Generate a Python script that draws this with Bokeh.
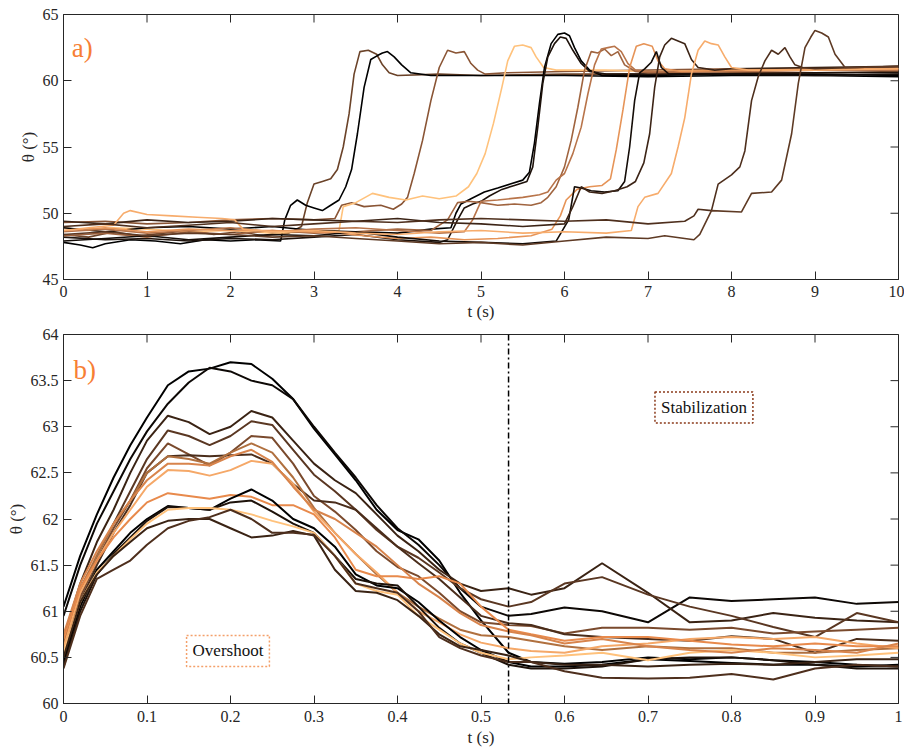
from bokeh.plotting import figure
from bokeh.models import Label, Span, FixedTicker, CustomJSTickFormatter, Range1d
from bokeh.layouts import column
from bokeh.embed import file_html
from bokeh.resources import INLINE

# ---------------- Panel a) : full time series ----------------
a_ticks_x = [0, 1, 2, 3, 4, 5, 6, 7, 8, 9, 10]
a_ticks_y = [45, 50, 55, 60, 65]

a1_t = [0, 0.3, 0.6, 0.9, 1.2, 1.5, 1.8, 2.1, 2.4, 2.7, 2.85, 2.92, 3.0, 3.1, 3.2, 3.28, 3.35, 3.42, 3.48, 3.55, 3.65, 3.75, 3.82, 3.9, 4.0, 4.5, 5, 6, 7, 8, 9, 10]
a1_v = [48.4, 48.2, 48.6, 48.3, 48.5, 48.7, 48.4, 48.6, 48.3, 48.5, 49.0, 50.8, 52.2, 52.4, 52.6, 53.3, 55.0, 57.5, 60.5, 62.2, 62.3, 62.0, 61.2, 60.6, 60.4, 60.5, 60.4, 60.5, 60.5, 60.6, 60.6, 60.7]
a2_t = [0, 0.2, 0.35, 0.5, 0.8, 1.1, 1.4, 1.7, 2.0, 2.3, 2.6, 2.65, 2.72, 2.8, 2.9, 3.0, 3.1, 3.2, 3.3, 3.38, 3.45, 3.52, 3.6, 3.68, 3.76, 3.82, 3.88, 3.96, 4.05, 4.16, 4.4, 5, 6, 7, 8, 9, 10]
a2_v = [47.8, 47.6, 47.4, 47.7, 48.0, 47.9, 47.7, 48.0, 47.9, 48.0, 47.9, 49.5, 50.6, 51.0, 50.6, 50.4, 50.2, 50.6, 51.0, 52.0, 53.3, 56.0, 59.5, 61.6, 61.9, 62.1, 62.2, 61.8, 61.2, 60.6, 60.4, 60.4, 60.4, 60.3, 60.4, 60.4, 60.3]
a3_t = [0, 0.5, 1.0, 1.5, 2.0, 2.5, 3.0, 3.25, 3.33, 3.45, 3.6, 3.8, 3.95, 4.05, 4.12, 4.2, 4.3, 4.4, 4.5, 4.6, 4.7, 4.8, 4.88, 4.96, 5.05, 5.3, 6, 7, 8, 9, 10]
a3_v = [49.3, 49.4, 49.2, 49.3, 49.5, 49.6, 49.5, 49.6, 50.6, 50.8, 50.5, 50.6, 50.3, 50.7, 51.2, 53.0, 55.5, 58.5, 61.0, 62.3, 62.1, 62.2, 61.3, 60.8, 60.5, 60.6, 60.7, 60.8, 60.9, 60.9, 61.0]
a4_t = [0, 0.3, 0.6, 1.0, 1.5, 2.0, 2.5, 3.0, 3.3, 3.35, 3.5, 3.7, 3.9, 4.1, 4.3, 4.5, 4.7, 4.85, 4.95, 5.05, 5.15, 5.25, 5.32, 5.4, 5.5, 5.6, 5.66, 5.75, 5.9, 6.5, 7, 8, 9, 10]
a4_v = [48.9, 48.7, 48.9, 48.8, 48.6, 48.7, 48.5, 48.6, 48.7, 50.5, 50.8, 51.5, 51.2, 51.0, 51.3, 51.1, 51.3, 52.0, 53.0, 54.5, 56.8, 59.5, 61.5, 62.6, 62.7, 62.5, 61.8, 61.0, 60.8, 60.8, 60.7, 60.8, 60.8, 60.9]
a5_t = [0, 0.5, 1, 1.5, 2, 2.5, 3, 3.5, 4, 4.4, 4.64, 4.7, 4.76, 4.88, 5.04, 5.2, 5.35, 5.5, 5.58, 5.64, 5.7, 5.76, 5.84, 5.92, 6.0, 6.06, 6.12, 6.2, 6.3, 6.45, 7, 8, 9, 10]
a5_v = [48.9, 48.6, 48.9, 49.0, 48.8, 49.0, 48.7, 48.6, 48.5, 48.8, 48.9, 50.0, 50.7, 51.1, 51.6, 51.9, 52.2, 52.5, 53.1, 55.3, 58.3, 61.0, 62.8, 63.5, 63.6, 63.4, 62.5, 61.5, 60.8, 60.4, 60.4, 60.5, 60.5, 60.4]
a6_t = [0, 0.5, 1, 1.5, 2, 2.5, 3, 3.5, 4, 4.5, 4.6, 4.72, 4.8, 4.9, 5.0, 5.1, 5.25, 5.4, 5.55, 5.62, 5.68, 5.74, 5.8, 5.88, 5.95, 6.02, 6.1, 6.2, 6.3, 6.5, 7, 8, 9, 10]
a6_v = [48.2, 48.0, 48.1, 47.9, 48.1, 48.0, 48.2, 48.4, 48.0, 47.8, 48.0, 49.5, 50.4, 50.7, 50.9, 51.3, 51.8, 52.1, 52.4, 53.5, 56.5, 59.8, 61.8, 62.8, 63.3, 63.2, 62.3, 61.3, 60.7, 60.5, 60.5, 60.5, 60.6, 60.6]
a7_t = [0, 0.5, 1, 1.5, 2, 2.5, 3, 3.5, 4, 4.4, 4.6, 4.72, 4.85, 5.0, 5.2, 5.4, 5.6, 5.72, 5.8, 5.9, 6.0, 6.08, 6.16, 6.24, 6.32, 6.4, 6.48, 6.56, 6.64, 6.72, 6.85, 7.0, 8, 9, 10]
a7_v = [48.3, 48.5, 48.2, 48.6, 48.4, 48.7, 48.5, 48.6, 48.8, 48.7, 49.5, 50.8, 50.9, 50.8, 50.6, 50.7, 50.6, 50.8, 51.2, 52.0, 53.5, 55.5, 58.0, 60.8, 62.2, 62.1, 62.4, 61.9, 62.2, 61.2, 60.7, 60.6, 60.7, 60.8, 60.8]
a8_t = [0, 0.5, 1, 1.5, 2, 2.5, 3, 3.5, 4, 4.5, 4.8, 4.9, 5.0, 5.2, 5.5, 5.7, 5.8, 5.9, 6.0, 6.1, 6.2, 6.28, 6.36, 6.44, 6.52, 6.6, 6.68, 6.76, 6.85, 7.0, 8, 9, 10]
a8_v = [48.6, 48.8, 48.5, 48.7, 48.9, 48.6, 48.8, 48.9, 48.7, 48.5, 48.6, 49.5, 50.9, 51.0, 51.2, 51.4, 51.6, 52.5, 53.0, 54.5, 56.5, 59.0, 61.2, 62.4, 62.5, 62.6, 62.2, 61.3, 60.8, 60.7, 60.7, 60.8, 60.8]
a9_t = [0, 0.5, 1, 1.5, 2, 2.5, 2.9, 3.3, 3.6, 4.0, 4.4, 4.8, 5.2, 5.6, 5.85, 5.95, 6.02, 6.15, 6.3, 6.45, 6.55, 6.62, 6.7, 6.78, 6.86, 6.95, 7.05, 7.12, 7.2, 7.4, 8, 9, 10]
a9_v = [48.7, 48.9, 48.6, 48.8, 48.7, 48.7, 48.6, 48.5, 48.3, 48.1, 48.2, 48.0, 48.1, 48.3, 48.8, 49.8, 51.0, 51.8, 52.0, 52.1, 52.6, 54.8, 57.8, 61.0, 62.6, 62.8, 62.6, 61.5, 60.9, 60.7, 60.8, 60.9, 60.9]
a10_t = [0, 0.5, 1, 1.5, 2, 2.5, 3, 3.5, 4, 4.5, 5, 5.5, 5.9, 6.05, 6.12, 6.2, 6.32, 6.48, 6.64, 6.72, 6.78, 6.84, 6.9, 6.96, 7.04, 7.1, 7.16, 7.25, 7.5, 8, 9, 10]
a10_v = [47.9, 48.1, 48.3, 48.0, 48.2, 48.4, 48.3, 48.6, 48.2, 47.9, 47.8, 47.7, 47.9, 49.5, 52.0, 51.9, 51.7, 51.6, 51.7, 52.4, 55.0, 58.5, 60.6, 60.9, 61.4, 62.2, 61.0, 60.5, 60.5, 60.5, 60.4, 60.5]
a11_t = [0, 0.5, 1, 1.5, 2, 2.5, 3, 3.5, 4, 4.5, 5, 5.5, 6.0, 6.1, 6.2, 6.3, 6.45, 6.6, 6.75, 6.85, 6.95, 7.02, 7.08, 7.14, 7.2, 7.28, 7.36, 7.44, 7.52, 7.6, 7.8, 8, 9, 10]
a11_v = [49.4, 49.2, 49.5, 49.3, 49.4, 49.6, 49.5, 49.4, 49.6, 49.3, 49.2, 49.0, 49.2, 50.5, 52.0, 51.6, 51.5, 51.7, 52.0, 52.4, 53.8, 56.0, 59.5, 61.8, 62.7, 63.2, 63.0, 62.8, 61.6, 61.0, 60.8, 60.9, 61.0, 61.1]
a12_t = [0, 0.3, 0.6, 0.72, 0.8, 1.0, 1.3, 1.6, 1.9, 2.05, 2.15, 2.5, 3.0, 3.5, 4.0, 4.5, 5.0, 5.5, 6.0, 6.5, 6.8, 6.88, 6.96, 7.12, 7.28, 7.36, 7.44, 7.52, 7.6, 7.68, 7.76, 7.84, 7.92, 8.0, 8.2, 9, 10]
a12_v = [48.7, 48.9, 49.1, 50.0, 50.2, 49.9, 49.8, 49.7, 49.6, 49.5, 48.8, 48.6, 48.7, 48.5, 48.4, 48.6, 48.7, 48.5, 48.6, 48.5, 48.7, 50.5, 51.2, 51.5, 53.0, 55.0, 57.2, 60.5, 62.3, 63.0, 62.8, 62.7, 61.8, 61.0, 60.8, 60.8, 60.9]
a13_t = [0, 0.5, 1, 1.5, 2, 2.5, 3, 3.5, 4, 4.5, 5, 5.5, 6, 6.5, 7, 7.44, 7.55, 7.6, 7.76, 7.84, 8.0, 8.1, 8.16, 8.24, 8.32, 8.4, 8.48, 8.56, 8.64, 8.7, 8.76, 8.85, 9, 10]
a13_v = [49.0, 49.2, 48.9, 49.1, 49.3, 49.0, 49.2, 49.4, 49.3, 49.5, 49.6, 49.5, 49.4, 49.5, 49.2, 49.4, 49.8, 50.3, 50.2, 52.2, 52.9, 53.5, 54.7, 58.5, 60.3, 61.5, 62.3, 62.0, 62.5, 61.8, 61.2, 61.0, 60.9, 61.1]
a14_t = [0, 0.5, 1, 1.5, 2, 2.5, 3, 3.5, 4, 4.5, 5, 5.5, 6, 6.5, 7, 7.2, 7.44, 7.55, 7.62, 7.76, 8.12, 8.24, 8.48, 8.6, 8.72, 8.8, 8.88, 8.95, 9.0, 9.08, 9.16, 9.24, 9.36, 9.5, 10]
a14_v = [48.4, 48.6, 48.3, 48.5, 48.4, 48.2, 48.3, 48.1, 47.9, 47.7, 47.8, 47.6, 47.9, 48.2, 48.1, 48.3, 48.1, 48.0, 48.4, 50.2, 50.1, 51.5, 51.6, 52.5, 56.0, 59.8, 62.5, 63.3, 63.8, 63.6, 63.3, 62.0, 61.0, 61.0, 61.1]

a_series = [(a1_t, a1_v), (a2_t, a2_v), (a3_t, a3_v), (a4_t, a4_v), (a5_t, a5_v),
            (a6_t, a6_v), (a7_t, a7_v), (a8_t, a8_v), (a9_t, a9_v), (a10_t, a10_v),
            (a11_t, a11_v), (a12_t, a12_v), (a13_t, a13_v), (a14_t, a14_v)]
a_colors = ["#6b4329", "#000000", "#8a5535", "#ffc27c", "#000000", "#1e120b", "#a0643f",
            "#b8744a", "#e69458", "#140c07", "#3c2416", "#f7ac6c", "#4e2f1d", "#5e3a24"]

# ---------------- Panel b) : zoom after the jump ----------------
b_ticks_x = [0, 0.1, 0.2, 0.3, 0.4, 0.5, 0.6, 0.7, 0.8, 0.9, 1.0]
b_ticks_y = [60, 60.5, 61, 61.5, 62, 62.5, 63, 63.5, 64]
tb = [0, 0.02, 0.04, 0.06, 0.08, 0.1, 0.125, 0.15, 0.175, 0.2, 0.225, 0.25, 0.275, 0.3, 0.325, 0.35,
      0.375, 0.4, 0.425, 0.45, 0.475, 0.5, 0.533, 0.56, 0.6, 0.645, 0.7, 0.75, 0.8, 0.85, 0.9, 0.95, 1.0]

b1 = [61.05, 61.6, 62.05, 62.45, 62.8, 63.1, 63.45, 63.6, 63.63, 63.7, 63.68, 63.52, 63.3, 62.98, 62.7, 62.42, 62.1, 61.88, 61.78, 61.55, 61.2, 60.9, 60.55, 60.45, 60.43, 60.45, 60.5, 60.48, 60.5, 60.47, 60.45, 60.42, 60.4]
b2 = [60.95, 61.5, 61.95, 62.3, 62.65, 62.95, 63.25, 63.48, 63.64, 63.6, 63.5, 63.45, 63.3, 63.0, 62.72, 62.45, 62.15, 61.9, 61.72, 61.5, 61.25, 61.05, 60.95, 60.97, 61.04, 61.0, 60.88, 61.15, 61.11, 61.13, 61.15, 61.08, 61.1]
b3 = [60.7, 61.3, 61.75, 62.1, 62.5, 62.85, 63.12, 63.05, 62.92, 63.0, 63.17, 63.1, 62.85, 62.6, 62.42, 62.28, 62.05, 61.82, 61.65, 61.45, 61.3, 61.22, 61.25, 61.18, 61.25, 61.52, 61.2, 60.88, 60.9, 60.98, 60.93, 60.9, 60.88]
b4 = [60.6, 61.2, 61.6, 61.95, 62.3, 62.65, 62.96, 62.9, 62.8, 62.9, 63.06, 63.02, 62.75, 62.48, 62.3, 62.1, 61.88, 61.7, 61.58, 61.42, 61.25, 61.13, 61.05, 61.1, 61.3, 61.37, 61.18, 61.05, 60.95, 60.83, 60.72, 60.98, 60.88]
b5 = [60.55, 61.15, 61.55, 61.9, 62.2, 62.55, 62.82, 62.7, 62.58, 62.72, 62.9, 62.88, 62.6, 62.25, 62.08, 61.88, 61.65, 61.48, 61.38, 61.2, 61.0, 60.88, 60.85, 60.84, 60.76, 60.82, 60.82, 60.8, 60.82, 60.76, 60.78, 60.8, 60.82]
b6 = [60.5, 61.1, 61.5, 61.85, 62.15, 62.5, 62.68, 62.69, 62.68, 62.69, 62.7, 62.6, 62.38, 62.2, 62.18, 62.1, 61.9, 61.7, 61.52, 61.35, 61.15, 60.95, 60.87, 60.85, 60.75, 60.72, 60.7, 60.68, 60.73, 60.7, 60.55, 60.7, 60.68]
b7 = [60.65, 61.25, 61.6, 61.95, 62.2, 62.5, 62.68, 62.65, 62.6, 62.72, 62.82, 62.72, 62.45, 62.12, 61.85, 61.62, 61.4, 61.2, 61.05, 60.92, 60.8, 60.74, 60.72, 60.68, 60.62, 60.58, 60.62, 60.6, 60.6, 60.55, 60.55, 60.58, 60.6]
b8 = [60.6, 61.2, 61.55, 61.85, 62.1, 62.35, 62.53, 62.52, 62.47, 62.53, 62.63, 62.6, 62.38, 62.08, 61.85, 61.62, 61.42, 61.2, 61.0, 60.88, 60.75, 60.66, 60.6, 60.57, 60.55, 60.62, 60.65, 60.7, 60.72, 60.7, 60.72, 60.65, 60.6]
b9 = [60.7, 61.25, 61.55, 61.8, 62.0, 62.18, 62.28, 62.25, 62.22, 62.26, 62.24, 62.15, 62.15, 62.05, 61.8, 61.45, 61.38, 61.38, 61.35, 61.38, 61.3, 61.05, 60.8, 60.75, 60.68, 60.72, 60.72, 60.68, 60.64, 60.62, 60.65, 60.62, 60.62]
b10 = [60.45, 61.05, 61.45, 61.65, 61.85, 62.0, 62.14, 62.12, 62.1, 62.22, 62.32, 62.2, 62.0, 61.9, 61.7, 61.4, 61.28, 61.25, 61.1, 60.9, 60.72, 60.58, 60.45, 60.4, 60.4, 60.42, 60.48, 60.46, 60.44, 60.42, 60.42, 60.4, 60.42]
b11 = [60.4, 61.0, 61.4, 61.62, 61.8, 61.98, 62.13, 62.12, 62.1, 62.18, 62.2, 62.08, 61.95, 61.85, 61.6, 61.35, 61.3, 61.28, 61.05, 60.82, 60.65, 60.55, 60.42, 60.38, 60.38, 60.4, 60.48, 60.5, 60.5, 60.47, 60.42, 60.38, 60.38]
b12 = [60.55, 61.1, 61.42, 61.6, 61.78, 61.95, 62.1, 62.12, 62.12, 62.1, 62.05, 61.98, 61.92, 61.85, 61.6, 61.3, 61.22, 61.18, 60.95, 60.8, 60.65, 60.55, 60.48, 60.5, 60.52, 60.55, 60.47, 60.55, 60.58, 60.55, 60.5, 60.52, 60.55]
b13 = [60.5, 61.1, 61.4, 61.6, 61.75, 61.9, 61.98, 62.0, 62.0, 61.9, 61.8, 61.82, 61.87, 61.82, 61.45, 61.22, 61.2, 61.12, 60.95, 60.75, 60.62, 60.58, 60.52, 60.45, 60.42, 60.42, 60.4, 60.42, 60.43, 60.42, 60.45, 60.48, 60.48]
b14 = [60.38, 60.95, 61.35, 61.45, 61.55, 61.72, 61.9, 61.98, 62.02, 62.1, 62.0, 61.85, 61.85, 61.83, 61.6, 61.3, 61.25, 61.2, 61.0, 60.72, 60.6, 60.52, 60.45, 60.45, 60.35, 60.28, 60.27, 60.28, 60.32, 60.26, 60.38, 60.42, 60.4]
b15 = [60.75, 61.3, 61.65, 61.95, 62.2, 62.42, 62.6, 62.6, 62.58, 62.68, 62.75, 62.62, 62.35, 62.1, 62.0, 61.85, 61.7, 61.5, 61.3, 61.15, 60.98, 60.85, 60.78, 60.74, 60.65, 60.7, 60.62, 60.58, 60.55, 60.6, 60.58, 60.55, 60.65]

b_series = [b1, b2, b3, b4, b5, b6, b7, b8, b9, b10, b11, b12, b13, b14, b15]
b_colors = ["#000000", "#0d0805", "#3a2314", "#5a3722", "#7a4a2d", "#4a2d1b", "#b0703f", "#f5a868",
            "#e88a4c", "#000000", "#1e120a", "#ffc27c", "#3a2314", "#4e2f1d", "#d8844c"]

switch_time = 0.533
overshoot_pos = (0.197, 60.57)
stabilization_pos = (0.767, 63.21)

FONT = "Liberation Serif"
AX = "#262626"
fmt = CustomJSTickFormatter(code="return String(Math.round(tick*10)/10);")


def make_fig(width, height, xr, yr, xt, yt, top, bottom, xstand, xlabstand):
    p = figure(width=width, height=height, x_range=Range1d(*xr), y_range=Range1d(*yr),
               output_backend="svg", toolbar_location=None,
               min_border_left=63, min_border_right=6, min_border_top=top, min_border_bottom=bottom)
    p.xgrid.visible = False
    p.ygrid.visible = False
    p.outline_line_color = AX
    p.outline_line_width = 1
    for ax, ticks in ((p.xaxis[0], xt), (p.yaxis[0], yt)):
        ax.ticker = FixedTicker(ticks=ticks)
        ax.formatter = fmt
        ax.major_tick_in = 8
        ax.major_tick_out = 0
        ax.minor_tick_line_color = None
        ax.axis_line_color = AX
        ax.major_tick_line_color = AX
        ax.major_label_text_font = FONT
        ax.major_label_text_font_size = "16px"
        ax.major_label_text_color = AX
        ax.axis_label_text_font = FONT
        ax.axis_label_text_font_size = "17px"
        ax.axis_label_text_font_style = "normal"
        ax.axis_label_text_color = AX
    p.xaxis.major_label_standoff = xstand
    p.xaxis.axis_label_standoff = xlabstand
    p.yaxis.major_label_standoff = 5
    p.yaxis.axis_label_standoff = 2
    p.xaxis.axis_label = "t (s)"
    p.yaxis.axis_label = "θ (°)"
    # inward ticks on the top and right frame edges (markers clipped to the frame)
    p.scatter(xt, [yr[1]] * len(xt), marker="dash", size=16, angle=1.5708,
              line_color=AX, line_width=1)
    p.scatter([xr[1]] * len(yt), yt, marker="dash", size=16, line_color=AX, line_width=1)
    return p


p1 = make_fig(904, 326, (0, 10), (45, 65), a_ticks_x, a_ticks_y, 14, 47, 6, 2)
for (tt, vv), c in zip(a_series, a_colors):
    p1.line(tt, vv, line_color=c, line_width=1.6)
p1.add_layout(Label(x=0.1, y=62.45, text="a)", text_font=FONT, text_font_size="27px",
                    text_color="#f77f35", text_baseline="alphabetic"))

p2 = make_fig(904, 426, (0, 1), (60, 64), b_ticks_x, b_ticks_y, 8, 49, 7, 3)
for vv, c in zip(b_series, b_colors):
    p2.line(tb, vv, line_color=c, line_width=2)
p2.add_layout(Span(location=switch_time, dimension="height", line_color="black",
                   line_width=1.5, line_dash="6 3 2 3"))
p2.add_layout(Label(x=0.012, y=63.61, text="b)", text_font=FONT, text_font_size="27px",
                    text_color="#f77f35", text_baseline="alphabetic"))
p2.add_layout(Label(x=overshoot_pos[0], y=overshoot_pos[1], text="Overshoot", text_font=FONT,
                    text_font_size="17px", text_color="#111111", text_align="center",
                    text_baseline="middle", background_fill_color="white",
                    border_line_color="#f4a06a", border_line_dash="2 2", border_line_width=1.5,
                    padding=6))
p2.add_layout(Label(x=stabilization_pos[0], y=stabilization_pos[1], text="Stabilization",
                    text_font=FONT, text_font_size="17px", text_color="#111111",
                    text_align="center", text_baseline="middle", background_fill_color="white",
                    border_line_color="#8b3a1a", border_line_dash="2 2", border_line_width=1.5,
                    padding=6))

layout = column(p1, p2)
open("out.html", "w").write(file_html(layout, INLINE))
